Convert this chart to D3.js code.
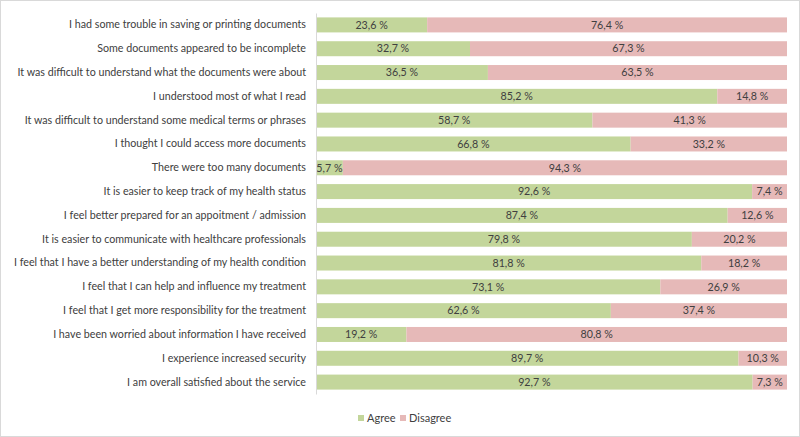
<!DOCTYPE html>
<html><head><meta charset="utf-8">
<script src="https://cdn.jsdelivr.net/npm/d3@7"></script>
<style>body{margin:0;background:#fff}svg{display:block}text{font-family:Lato,"Open Sans",sans-serif}</style>
</head><body><svg id="c" width="800" height="437"></svg>
<script>
const categories = [
"I had some trouble in saving or printing documents",
"Some documents appeared to be incomplete",
"It was difficult to understand what the documents were about",
"I understood most of what I read",
"It was difficult to understand some medical terms or phrases",
"I thought I could access more documents",
"There were too many documents",
"It is easier to keep track of my health status",
"I feel better prepared for an appoitment / admission",
"It is easier to communicate with healthcare professionals",
"I feel that I have a better understanding of my health condition",
"I feel that I can help and influence my treatment",
"I feel that I get more responsibility for the treatment",
"I have been worried about information I have received",
"I experience increased security",
"I am overall satisfied about the service"];
const agree = [23.6,32.7,36.5,85.2,58.7,66.8,5.7,92.6,87.4,79.8,81.8,73.1,62.6,19.2,89.7,92.7];
const disagree = [76.4,67.3,63.5,14.8,41.3,33.2,94.3,7.4,12.6,20.2,18.2,26.9,37.4,80.8,10.3,7.3];
const seriesNames = ["Agree","Disagree"];
const colors = ["#c3d69b","#e6b9b8"];

(function(){
const svg = d3.select("#c");
svg.append("rect").attr("x",0.5).attr("y",0.5).attr("width",799).attr("height",436)
  .attr("fill","#fff").attr("stroke","#d9d9d9");
const L=316, R=787, T=13, B=394;
const x = d3.scaleLinear().domain([0,100]).range([L,R]);
const y = d3.scaleBand().domain(categories).range([T,B]).paddingInner(0.37).paddingOuter(0.185);

const data = categories.map((c,i)=>({c, vals:[agree[i],disagree[i]]}));
const g = svg.append("g");
data.forEach(d=>{
  let acc=0;
  d.vals.forEach((v,k)=>{
    g.append("rect").attr("x",x(acc)).attr("y",y(d.c)).attr("width",x(acc+v)-x(acc))
      .attr("height",y.bandwidth()).attr("fill",colors[k]);
    acc+=v;
  });
});
data.forEach(d=>{
  let acc=0;
  d.vals.forEach((v,k)=>{
    g.append("text").attr("x",(x(acc)+x(acc+v))/2).attr("y",y(d.c)+y.bandwidth()/2)
      .attr("dy","0.35em").attr("text-anchor","middle").attr("font-size",10.7).attr("fill","#404040")
      .text(d3.format(".1f")(v).replace(".",",")+" %");
    acc+=v;
  });
});
const ax = svg.append("g").attr("transform",`translate(${L},0)`).call(d3.axisLeft(y).tickSize(0).tickPadding(10));
ax.select(".domain").attr("stroke","#d9d9d9");
ax.selectAll("text").attr("font-size",10.7).attr("fill","#404040").attr("font-family","Lato");

const leg = svg.append("g").attr("transform","translate(358,418)");
let lx=0;
seriesNames.forEach((s,k)=>{
  const gg=leg.append("g").attr("transform",`translate(${lx},0)`);
  gg.append("rect").attr("x",0).attr("y",-3).attr("width",6).attr("height",6).attr("fill",colors[k]);
  gg.append("text").attr("x",9).attr("dy","0.35em").attr("font-size",11).attr("fill","#404040").text(s);
  lx+=42;
});
})();
</script></body></html>
